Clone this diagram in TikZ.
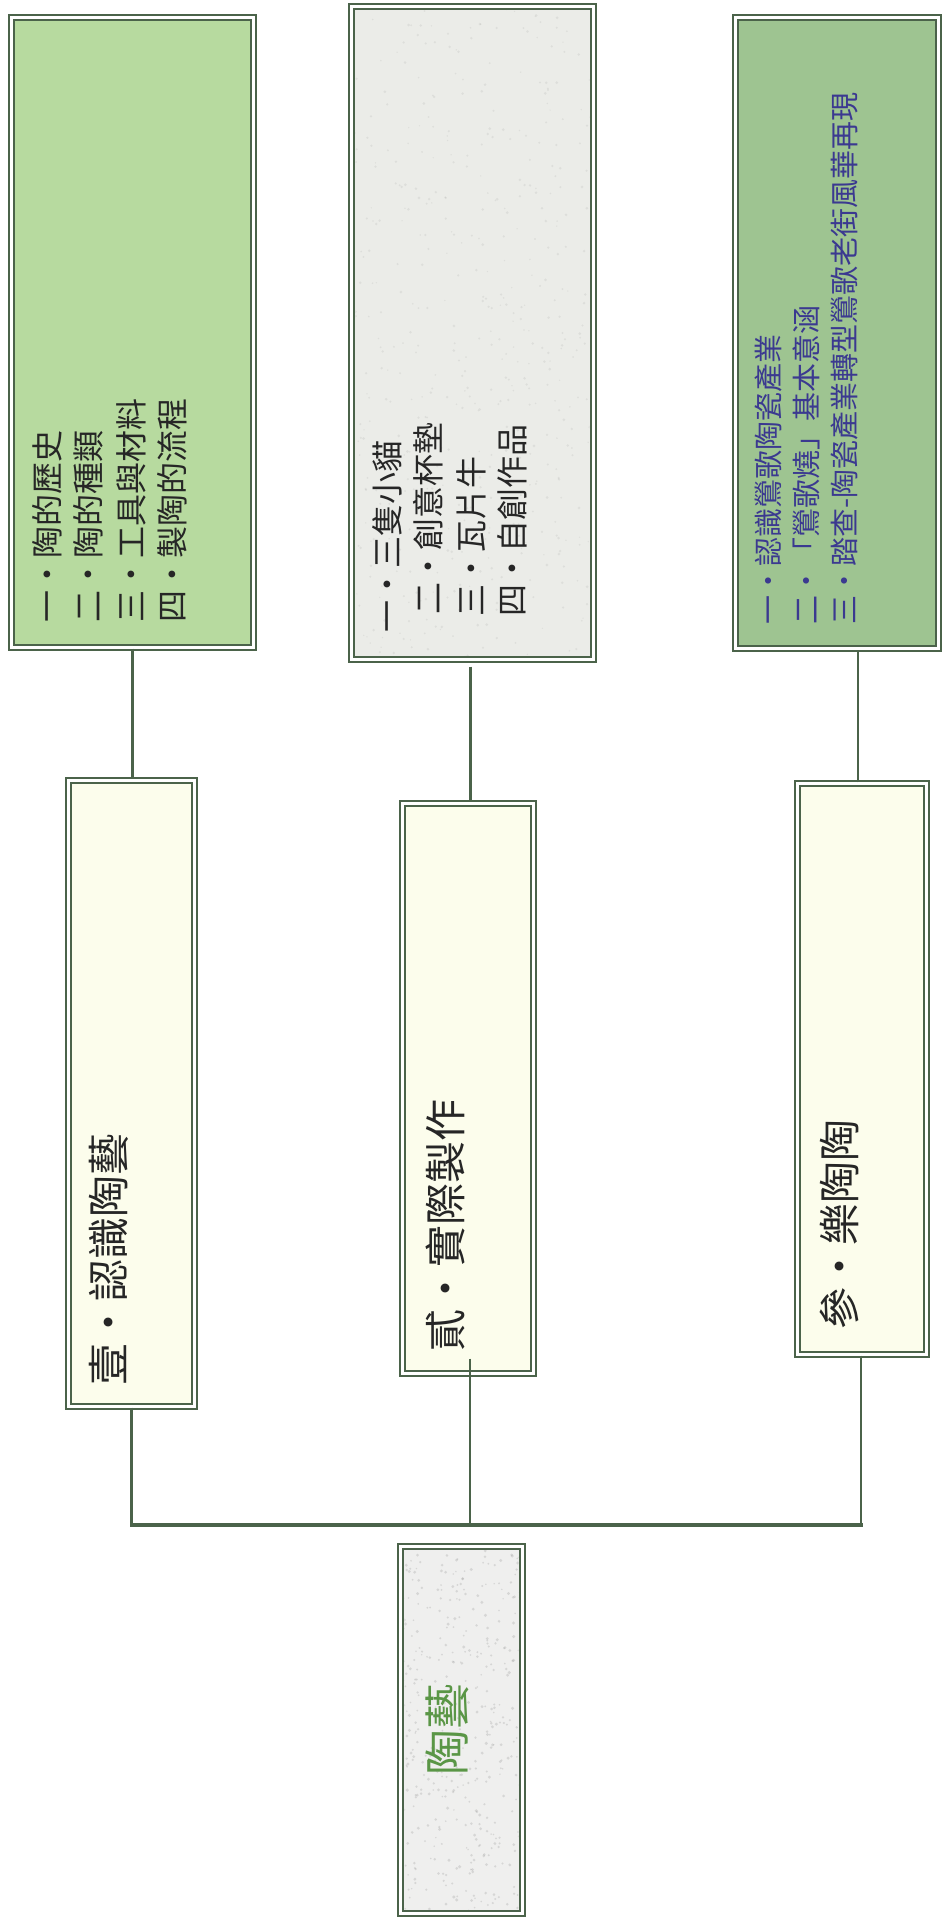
\documentclass[tikz,border=0pt]{standalone}
\usepackage{fontspec}
\newfontfamily\cjk{Noto Sans CJK TC}
\usetikzlibrary{calc}
\definecolor{bordc}{HTML}{4B634A}
\definecolor{fillA}{HTML}{B7DA9F}
\definecolor{fillB}{HTML}{EBECE8}
\definecolor{fillC}{HTML}{9EC491}
\definecolor{cream}{HTML}{FCFDEC}
\definecolor{rootf}{HTML}{EFEFEE}
\definecolor{txtdark}{HTML}{262626}
\definecolor{txtblue}{HTML}{3B3990}
\definecolor{txtgreen}{HTML}{5A9646}
\newcommand\ldot{\makebox[1em]{•}}
\tikzset{
  framebox/.style={draw=bordc, line width=2pt, double=white, double distance=2.6pt, inner sep=0pt, rectangle},
  vtext/.style={rotate=90, anchor=west, inner sep=0pt, text=txtdark, font=\cjk\fontsize{32}{32}\selectfont},
  vblue/.style={vtext, text=txtblue, font=\cjk\fontsize{29}{29}\selectfont},
  vtitle/.style={vtext, text=txtdark, font=\cjk\fontsize{42}{42}\selectfont},
  vroot/.style={vtext, text=txtgreen, font=\cjk\fontsize{46}{46}\selectfont},
  link/.style={draw=bordc, line width=2.4pt},
  bus/.style={draw=bordc, line width=3.4pt, line cap=rect},
  speck/.style={fill=gray, fill opacity=0.22}
}
\begin{document}
\begin{tikzpicture}[x=1pt, y=-1pt]
\useasboundingbox (0,0) rectangle (946,1929);
\fill[white] (0,0) rectangle (946,1929);

% top boxes
\node[framebox, fill=fillA, minimum width=242.4pt, minimum height=630.4pt] (A) at (132.5,332.5) {};
\node[framebox, fill=fillB, minimum width=242.4pt, minimum height=653.4pt] (B) at (472.5,333) {};
\node[framebox, fill=fillC, minimum width=203.4pt, minimum height=631.4pt] (C) at (837,333) {};

% middle boxes
\node[framebox, fill=cream, minimum width=126.4pt, minimum height=626.4pt] (I) at (131.5,1093.5) {};
\node[framebox, fill=cream, minimum width=131.4pt, minimum height=570.4pt] (II) at (468,1088.5) {};
\node[framebox, fill=cream, minimum width=129.4pt, minimum height=571.4pt] (III) at (862,1069) {};

% root box
\node[framebox, fill=rootf, minimum width=122.4pt, minimum height=367.4pt] (R) at (461.5,1730) {};

% speckle texture
\pgfmathsetseed{4242}
\begin{scope}
  \clip ([shift={(5pt,5pt)}]R.south west) rectangle ([shift={(-5pt,-5pt)}]R.north east);
  \foreach \k in {1,...,420}{
    \pgfmathsetmacro\px{461.5+60*rand}
    \pgfmathsetmacro\py{1730+185*rand}
    \pgfmathsetmacro\pr{0.8+0.9*abs(rand)}
    \fill[speck] (\px,\py) circle (\pr);
  }
\end{scope}
\begin{scope}
  \clip ([shift={(5pt,5pt)}]B.south west) rectangle ([shift={(-5pt,-5pt)}]B.north east);
  \foreach \k in {1,...,500}{
    \pgfmathsetmacro\px{472.5+120*rand}
    \pgfmathsetmacro\py{333.5+325*rand}
    \pgfmathsetmacro\pr{0.7+0.8*abs(rand)}
    \fill[speck, fill opacity=0.12] (\px,\py) circle (\pr);
  }
\end{scope}

% texts box A
\node[vtext] (a1) at (47,623) {一\ldot 陶的歷史};
\node[vtext] (a2) at (88,623) {二\ldot 陶的種類};
\node[vtext] (a3) at (131,623) {三\ldot 工具與材料};
\node[vtext] (a4) at (172,623) {四\ldot 製陶的流程};

% texts box B
\node[vtext] (b1) at (387,633) {一\ldot 三隻小貓};
\node[vtext] (b2) at (428,615) {二\ldot 創意杯墊};
\node[vtext] (b3) at (471,617) {三\ldot 瓦片牛};
\node[vtext] (b4) at (512,617) {四\ldot 自創作品};

% texts box C
\node[vblue] (c1) at (768,625) {一\ldot 認識鶯歌陶瓷產業};
\node[vblue] (c2) at (806,625) {二\ldot 「鶯歌燒」基本意涵};
\node[vblue] (c3) at (844,625) {三\ldot 踏查-陶瓷產業轉型鶯歌老街風華再現};

% titles
\node[vtitle] (t1) at (109,1386) {壹・認識陶藝};
\node[vtitle] (t2) at (445,1352) {貳・實際製作};
\node[vtitle] (t3) at (839,1330) {參・樂陶陶};
\node[vroot] (rt) at (447,1776) {陶藝};

% connectors top
\draw[link] (A.south) -- (A.south |- I.north);
\coordinate (btop) at ([xshift=-2pt,yshift=-6pt]B.south);
\draw[link] (btop) -- (btop |- II.north);
\coordinate (ctop) at ([xshift=-4pt]III.north);
\draw[link] (ctop) -- (ctop |- C.south);

% connectors bottom
\coordinate (busy) at (0,1525);
\draw[link] (I.south) -- (I.south |- busy);
\coordinate (iib) at ([xshift=2pt,yshift=16pt]II.south);
\draw[link] (iib) -- (iib |- busy);
\coordinate (iiib) at ([xshift=-1pt]III.south);
\draw[link] (iiib) -- (iiib |- busy);
\draw[bus] (I.south |- busy) -- (iiib |- busy);
\end{tikzpicture}
\end{document}
